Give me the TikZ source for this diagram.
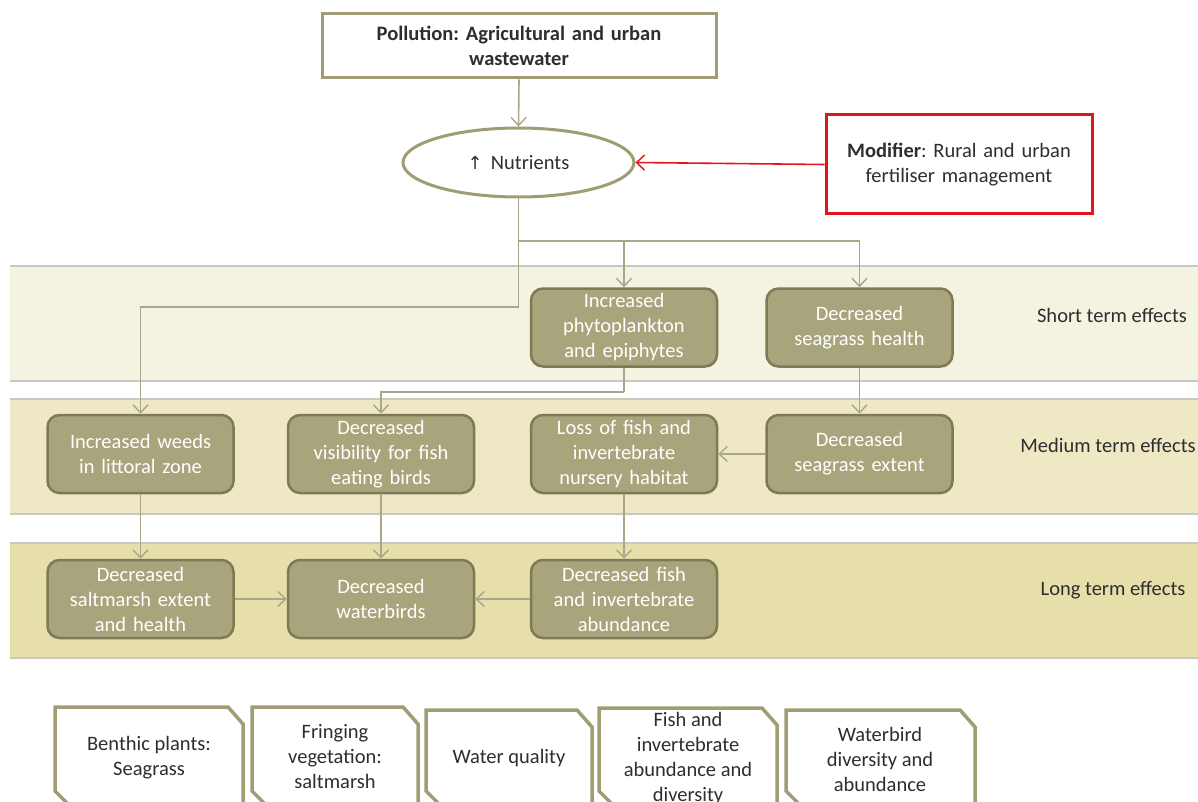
\documentclass[tikz,border=0pt]{standalone}
\usepackage{fontspec}
\setmainfont{Carlito}
\newfontfamily\symfont{DejaVu Sans}
\usetikzlibrary{arrows.meta,shapes.geometric}
\frenchspacing

\definecolor{bandA}{HTML}{F4F2E0}
\definecolor{bandB}{HTML}{EEE8C4}
\definecolor{bandC}{HTML}{E6DFAA}
\definecolor{bandline}{HTML}{C9C8BE}
\definecolor{boxfill}{HTML}{A8A47B}
\definecolor{boxedge}{HTML}{7E7A56}
\definecolor{frame}{HTML}{A09C74}
\definecolor{wire}{HTML}{A9A68C}
\definecolor{modred}{HTML}{E3141E}
\definecolor{ink}{HTML}{2E2E2E}

\tikzset{
  txt/.style={font=\fontsize{20.5}{25}\selectfont, align=center},
  effect/.style={txt, draw=boxedge, fill=boxfill, line width=2.5pt, rounded corners=12pt,
    minimum width=186pt, minimum height=78pt, text width=178pt, text=white, inner sep=0pt},
  bandedge/.style={draw=bandline, line width=1.5pt},
  conn/.style={draw=wire, line width=1.6pt, -{Straight Barb[length=8pt,width=15pt,line width=1.4pt]}},
  plain/.style={draw=wire, line width=1.6pt},
  plaque/.style={draw=frame, line width=3.5pt, fill=white, line join=miter},
  bandlabel/.style={txt, text=ink},
  note/.style={txt, text=ink}
}

\newcommand{\snipframe}[3]{% left x, right x, top y
  \path[plaque] (#1,#3) -- (#2-15,#3) -- (#2,#3+17) -- (#2,806) -- (#1+15,806) -- (#1,791) -- cycle;}

\begin{document}
\begin{tikzpicture}[x=1pt,y=-1pt]
  \useasboundingbox (0,0) rectangle (1198,802);
  \clip (0,0) rectangle (1198,802);

  % time bands
  \fill[bandA] (10,266) rectangle (1198,381);
  \fill[bandB] (10,399) rectangle (1198,514);
  \fill[bandC] (10,543) rectangle (1198,658);
  \foreach \y in {266,381,399,514,543,658} \draw[bandedge] (10,\y) -- (1198,\y);

  \node[bandlabel] (lshort) at (1112,315) {Short term effects};
  \node[bandlabel] (lmed) at (1108,445) {Medium term effects};
  \node[bandlabel] (llong) at (1113,590) {Long term effects};

  % pressure, stressor and modifier
  \node[txt, draw=frame, line width=3pt, fill=white, minimum width=394pt, minimum height=64pt,
        text width=380pt, text=ink, font=\fontsize{20.5}{25}\selectfont\bfseries] (poll) at (519,46)
        {Pollution: Agricultural and urban\\wastewater};
  \node[txt, ellipse, draw=frame, line width=3pt, fill=white, minimum width=231pt, minimum height=69pt,
        inner sep=0pt, text=ink] (nut) at (518.5,162.5) {{\symfont\fontsize{18}{25}\selectfont ↑}\, Nutrients};
  \node[txt, draw=modred, line width=3pt, fill=white, minimum width=266pt, minimum height=99pt,
        text width=250pt, text=ink] (mod) at (959,164.5)
        {\textbf{Modifier}: Rural and urban\\fertiliser management};

  % effects
  \node[effect] (phyto) at (624,327.5) {Increased\\phytoplankton\\and epiphytes};
  \node[effect] (sgh) at (859.5,327.5) {Decreased\\seagrass health};
  \node[effect] (weeds) at (140.5,454) {Increased weeds\\in littoral zone};
  \node[effect] (vis) at (381,454) {Decreased\\visibility for fish\\eating birds};
  \node[effect] (loss) at (624,454) {Loss of fish and\\invertebrate\\nursery habitat};
  \node[effect] (sge) at (859.5,454) {Decreased\\seagrass extent};
  \node[effect] (salt) at (140.5,599) {Decreased\\saltmarsh extent\\and health};
  \node[effect] (wb) at (381,599) {Decreased\\waterbirds};
  \node[effect] (fish) at (624,599) {Decreased fish\\and invertebrate\\abundance};

  % connectors
  \coordinate (split) at (518.5,241);
  \coordinate (wturn) at (518.5,307);
  \coordinate (pturn) at (624,392);
  \draw[conn] (poll.south) -- (nut.north);
  \draw[conn, draw=modred] (mod.west) -- (nut.east);
  \draw[plain] (nut.south) -- (wturn);
  \draw[conn] (wturn) -| (weeds.north);
  \draw[conn] (split) -| (phyto.north);
  \draw[conn] (split) -| (sgh.north);
  \draw[plain] (phyto.south) -- (pturn);
  \draw[conn] (pturn) -| (vis.north);
  \draw[conn] (sgh.south) -- (sge.north);
  \draw[conn] (sge.west) -- (loss.east);
  \draw[conn] (weeds.south) -- (salt.north);
  \draw[conn] (vis.south) -- (wb.north);
  \draw[conn] (loss.south) -- (fish.north);
  \draw[conn] (salt.east) -- (wb.west);
  \draw[conn] (fish.west) -- (wb.east);

  % values
  \snipframe{55}{243}{707}
  \snipframe{252}{418}{707}
  \snipframe{426}{592}{710}
  \snipframe{599}{777}{708}
  \snipframe{786}{975}{710}
  \node[note] (vseag) at (149,757.5) {Benthic plants:\\Seagrass};
  \node[note] (vfringe) at (335,757) {Fringing\\vegetation:\\saltmarsh};
  \node[note] (vwq) at (509,758) {Water quality};
  \node[note] (vfish) at (688,758.5) {Fish and\\invertebrate\\abundance and\\diversity};
  \node[note] (vbird) at (880,759) {Waterbird\\diversity and\\abundance};
\end{tikzpicture}
\end{document}
